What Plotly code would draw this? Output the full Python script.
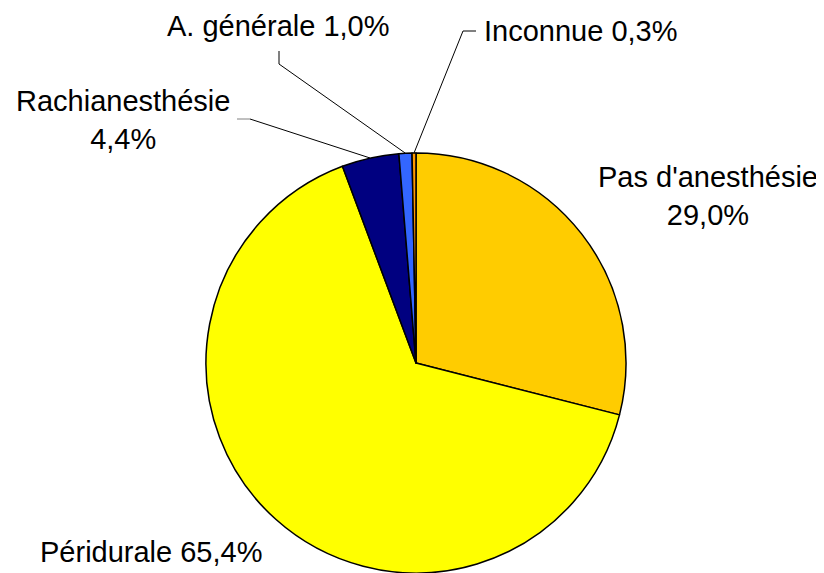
import math
import plotly.graph_objects as go

labels = ["Pas d'anesthésie", "Péridurale", "Rachianesthésie", "A. générale", "Inconnue"]
values = [29.0, 65.4, 4.4, 1.0, 0.3]
value_text = ["29,0%", "65,4%", "4,4%", "1,0%", "0,3%"]
colors = ["#FFCC00", "#FFFF00", "#000080", "#3366FF", "#FF9900"]

# page body has an 8px margin; figure is sized to fill the rest of the window
OX, OY = 8, 8
FW, FH = 824 - OX, 573 - OY
CX, CY, R = 416, 363, 210  # pie centre / radius in window pixels

def px(x):
    return (x - OX) / FW

def py(y):
    return 1 - (y - OY) / FH

fig = go.Figure()
fig.add_trace(go.Pie(
    labels=labels,
    values=values,
    sort=False,
    direction="clockwise",
    rotation=0,
    marker=dict(colors=colors, line=dict(color="black", width=1.5)),
    textinfo="none",
    hoverinfo="label+percent",
    showlegend=False,
    domain=dict(x=[px(CX - R), px(CX + R)], y=[max(0, py(CY + R)), py(CY - R)]),
))

# slice mid-angle edge points derived from the data
total = sum(values)
edge = []
cum = 0.0
for v in values:
    mid = (cum + v / 2) / total * 2 * math.pi
    edge.append((CX + R * math.sin(mid), CY - R * math.cos(mid)))
    cum += v

font = dict(family="Liberation Sans, Arial, sans-serif", size=29, color="black")

def ann(text, x, y, xanchor="center", yanchor="middle", align="center"):
    fig.add_annotation(text=text, x=px(x), y=py(y), xref="paper", yref="paper",
                       showarrow=False, xanchor=xanchor, yanchor=yanchor,
                       align=align, font=font)

ann(f"{labels[0]}<br>{value_text[0]}", 708, 196)
ann(f"{labels[1]} {value_text[1]}", 151, 552)
ann(f"{labels[2]}<br>{value_text[2]}", 123, 120)
ann(f"{labels[3]} {value_text[3]}", 278, 26)
ann(f"{labels[4]} {value_text[4]}", 580, 31)

def seg(x0, y0, x1, y1, color="black"):
    fig.add_shape(type="line", xref="paper", yref="paper",
                  x0=px(x0), y0=py(y0), x1=px(x1), y1=py(y1),
                  line=dict(color=color, width=1))

# leader lines: text elbow -> slice edge
seg(237, 119, 250, 119, color="#808080")
seg(250, 119, *edge[2])
seg(279, 51, 279, 64)
seg(279, 64, *edge[3])
seg(476, 31, 463, 31)
seg(463, 31, *edge[4])

fig.update_layout(
    width=FW, height=FH,
    margin=dict(l=0, r=0, t=0, b=0),
    paper_bgcolor="white",
    plot_bgcolor="white",
)

fig.write_html("out.html")
